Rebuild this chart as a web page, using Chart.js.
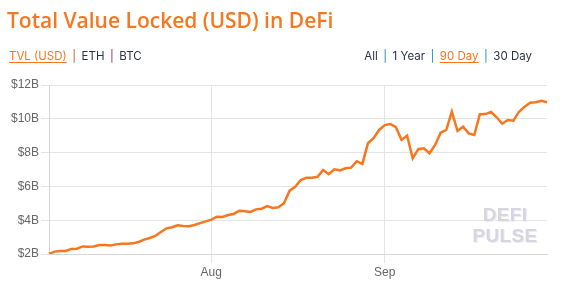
<!DOCTYPE html>
<html>
<head>
<meta charset="utf-8">
<script src="https://cdn.jsdelivr.net/npm/chart.js@4"></script>
<style>
  html, body { margin: 0; padding: 0; background: #fff; }
  #wrap { position: relative; width: 562px; height: 283px; overflow: hidden; }
  #chartBox { position: absolute; left: 0; top: 0; width: 562px; height: 283px; }
  #title { position: absolute; left: 7px; top: 6px; font: 600 21px "Open Sans", sans-serif; color: #f7761e; white-space: nowrap; }
  .links { position: absolute; top: 49px; font: 11.5px "Inter", sans-serif; color: #2e3440; white-space: nowrap; }
  #linksLeft { left: 9px; }
  #linksRight { right: 30px; }
  .links .on { color: #f7761e; text-decoration: underline; text-underline-offset: 2px; }
  .links .sep { margin: 0 5.5px; }
  #mark { position: absolute; left: 455px; width: 100px; top: 204px; text-align: center;
          font: bold 19px "Liberation Sans", sans-serif; line-height: 21px; color: #d7d5e1;
          text-shadow: 1px 1px 0 #ececf1; letter-spacing: 0.3px; }
</style>
</head>
<body>
<div id="wrap">
  <div id="chartBox"><canvas id="tvlChart"></canvas></div>
  <div id="title">Total Value Locked (USD) in DeFi</div>
  <div class="links" id="linksLeft"><span class="on">TVL (USD)</span><span class="sep" style="color:#b0603a">|</span>ETH<span class="sep" style="color:#7a2c8c">|</span>BTC</div>
  <div class="links" id="linksRight">All<span class="sep" style="color:#1d86c8">|</span>1 Year<span class="sep" style="color:#1d86c8">|</span><span class="on">90 Day</span><span class="sep" style="color:#1d86c8">|</span>30 Day</div>
  <div id="mark">DEFI<br>PULSE</div>
</div>
<script>
// daily TVL in billions USD, Jul 3 -> Sep 30
const tvlValues = [
    2.00, 2.14, 2.18, 2.18, 2.30, 2.31, 2.45, 2.43, 2.45, 2.53,
    2.53, 2.51, 2.57, 2.61, 2.61, 2.63, 2.71, 2.85, 2.95, 3.07,
    3.30, 3.52, 3.58, 3.70, 3.66, 3.64, 3.72, 3.83, 3.93, 4.03,
    4.21, 4.19, 4.31, 4.37, 4.56, 4.53, 4.49, 4.64, 4.68, 4.84,
    4.72, 4.76, 5.00, 5.75, 5.98, 6.38, 6.51, 6.51, 6.57, 6.97,
    6.72, 7.01, 6.95, 7.07, 7.11, 7.49, 7.33, 8.55, 8.85, 9.34,
    9.63, 9.69, 9.50, 8.75, 9.00, 7.66, 8.20, 8.25, 7.96, 8.45,
    9.18, 9.34, 10.42, 9.28, 9.53, 9.14, 9.04, 10.27, 10.28, 10.40,
    10.09, 9.71, 9.93, 9.89, 10.42, 10.72, 10.95, 10.98, 11.07, 10.98
];
const monthNames = ['Jan', 'Feb', 'Mar', 'Apr', 'May', 'Jun', 'Jul', 'Aug', 'Sep', 'Oct', 'Nov', 'Dec'];
const yTicks = [2, 4, 6, 8, 10, 12];

// one label per day starting Jul 3
const dayLabels = [];
for (let i = 0; i < tvlValues.length; i++) {
    const d = new Date(2020, 6, 3 + i);
    dayLabels.push(monthNames[d.getMonth()] + ' ' + d.getDate());
}

const gridColor = '#e4e4e4';
const ctx = document.getElementById('tvlChart').getContext('2d');
const tvlChart = new Chart(ctx, {
    type: 'line',
    data: {
        labels: dayLabels,
        datasets: [{
            label: 'TVL (USD)',
            data: tvlValues,
            borderColor: '#f7761e',
            borderWidth: 2.5,
            pointRadius: 0,
            tension: 0,
            fill: false
        }]
    },
    options: {
        responsive: true,
        maintainAspectRatio: false,
        animation: false,
        layout: { padding: { top: 85, right: 15, left: 0, bottom: 0 } },
        plugins: { legend: { display: false }, tooltip: { enabled: false } },
        scales: {
            x: {
                type: 'category',
                offset: false,
                grid: { color: gridColor, tickLength: 9 },
                border: { color: '#d6d6d6' },
                ticks: {
                    autoSkip: false,
                    maxRotation: 0,
                    padding: 2,
                    color: '#666',
                    font: { family: 'Liberation Sans', size: 12 },
                    callback: (v) => dayLabels[v].split(' ')[0]
                },
                afterBuildTicks: (scale) => {
                    // only first day of each month gets a tick
                    scale.ticks = scale.ticks.filter(t => dayLabels[t.value].endsWith(' 1'));
                },
                afterFit: (scale) => { scale.height = 29; }
            },
            y: {
                min: 2,
                max: 12,
                grid: { color: gridColor, tickLength: 8 },
                border: { color: '#d6d6d6' },
                ticks: {
                    stepSize: 2,
                    padding: 2,
                    color: '#666',
                    font: { family: 'Liberation Sans', size: 12 },
                    callback: (v) => yTicks.includes(v) ? '$' + v + 'B' : ''
                },
                afterFit: (scale) => { scale.width = 49; }
            }
        }
    }
});
</script>
</body>
</html>
